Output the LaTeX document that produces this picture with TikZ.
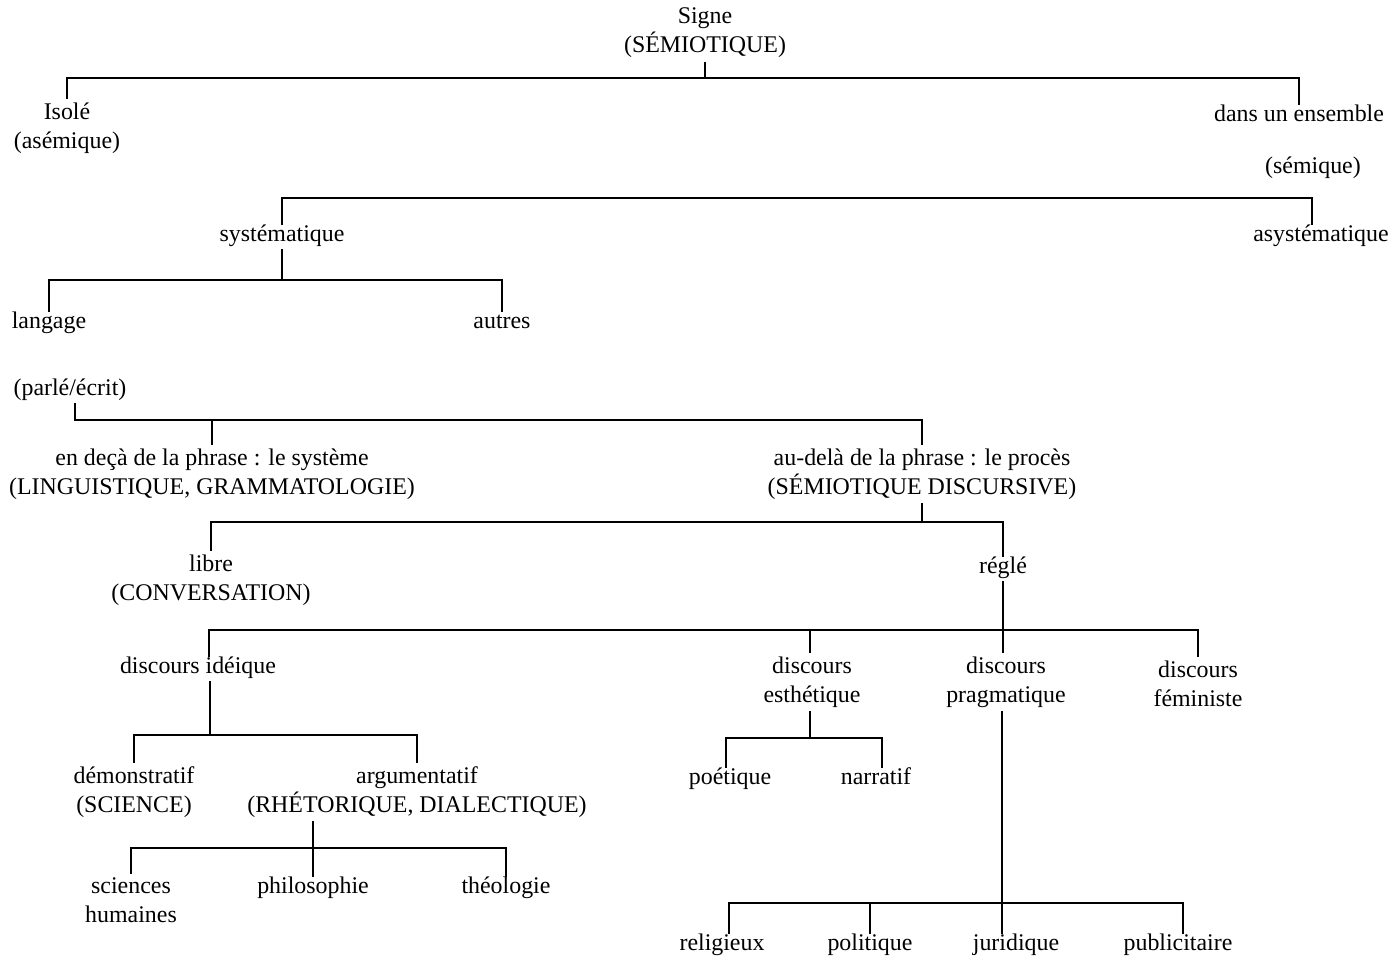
\documentclass[tikz,border=0pt]{standalone}
\usepackage{fontspec}
\setmainfont{Liberation Serif}
\usetikzlibrary{positioning}

\begin{document}
\begin{tikzpicture}[x=0.02cm, y=-0.02cm,
  br/.style={line width=0.7pt},
  term/.style={inner sep=2pt, align=center, font=\fontsize{13.6}{16.4}\selectfont},
  word/.style={term, text height=0.72em, text depth=0.22em}
]
\useasboundingbox (0,0) rectangle (1400,958);

% level 1
\node[term] (Sig) at (705,33) {Signe\\(SÉMIOTIQUE)};
\node[term] (Iso) at (67,128) {Isolé\\(asémique)};
\node[word] (Ens) at (1299,117) {dans un ensemble};
\node[word] (Sem) at (1313,169) {(sémique)};

\coordinate (J1) at (705,78);
\draw[br] (Sig) -- (J1);
\draw[br] (Iso) |- (J1) -| (Ens);

% level 2
\node[word] (Sys) at (282,237) {systématique};
\node[word] (Asy) at (1321,237) {asystématique};

\coordinate (J2) at (1312,198);
\draw[br] (Sys) |- (J2) -- (J2 |- Asy.north);

\node[word] (Lan) at (49,324) {langage};
\node[word] (Aut) at (502,324) {autres};

\coordinate (J3) at (282,280);
\draw[br] (Sys) -- (J3);
\draw[br] (Lan) |- (J3) -| (Aut);

% langage
\node[word] (Par) at (70,391) {(parlé/écrit)};
\node[term] (Deca) at (212,474) {en deçà de la phrase : le système\\(LINGUISTIQUE, GRAMMATOLOGIE)};
\node[term] (Dela) at (922,474) {au-delà de la phrase : le procès\\(SÉMIOTIQUE DISCURSIVE)};

\coordinate (J4) at (75,420);
\draw[br] (Par.south -| J4) -- (J4) -| (Dela);
\draw[br] (Deca) -- (Deca |- J4);

% procès
\node[term] (Lib) at (211,580) {libre\\(CONVERSATION)};
\node[word] (Reg) at (1003,569) {réglé};

\coordinate (J5) at (922,522);
\draw[br] (Dela) -- (J5);
\draw[br] (Lib) |- (J5) -| (Reg);

% discours
\node[word] (Ide) at (198,669) {discours idéique};
\node[term] (Est) at (812,682) {discours\\esthétique};
\node[term] (Pra) at (1006,682) {discours\\pragmatique};
\node[term] (Fem) at (1198,684) {discours\\féministe};

\coordinate (J6l) at (209,630);
\coordinate (J6)  at (1003,630);
\coordinate (J6r) at (1198,630);
\draw[br] (Reg) -- (Reg |- Pra.north);
\draw[br] (J6l |- Ide.north) -- (J6l) -- (J6r) -- (Fem);
\draw[br] (J6 -| 810,0) -- (Est.north -| 810,0);

% idéique
\node[term] (Dem) at (134,792) {démonstratif\\(SCIENCE)};
\node[term] (Arg) at (417,792) {argumentatif\\(RHÉTORIQUE, DIALECTIQUE)};

\coordinate (J7) at (210,735);
\draw[br] (J7 |- Ide.south) -- (J7);
\draw[br] (Dem) |- (J7) -| (Arg);

\node[term] (Sci) at (131,900) {sciences\\humaines};
\node[word] (Phi) at (313,889) {philosophie};
\node[word] (The) at (506,889) {théologie};

\coordinate (J8) at (313,848);
\draw[br] (J8 |- Arg.south) -- (J8) -- (Phi);
\draw[br] (Sci) |- (J8) -| (The);

% esthétique
\node[word] (Poe) at (730,780) {poétique};
\node[word] (Nar) at (876,780) {narratif};

\coordinate (J9)  at (810,738);
\coordinate (J9l) at (726,738);
\coordinate (J9r) at (882,738);
\draw[br] (J9 |- Est.south) -- (J9);
\draw[br] (J9l |- Poe.north) -- (J9l) -- (J9r) -- (J9r |- Nar.north);

% pragmatique
\node[word] (Rel) at (722,946) {religieux};
\node[word] (Pol) at (870,946) {politique};
\node[word] (Jur) at (1016,946) {juridique};
\node[word] (Pub) at (1178,946) {publicitaire};

\coordinate (J10)  at (1002,903);
\coordinate (J10l) at (729,903);
\coordinate (J10r) at (1183,903);
\draw[br] (J10 |- Pra.south) -- (J10) -- (J10 |- Jur.north);
\draw[br] (J10l |- Rel.north) -- (J10l) -- (J10r) -- (J10r |- Pub.north);
\draw[br] (Pol) -- (Pol |- J10);

\end{tikzpicture}
\end{document}
